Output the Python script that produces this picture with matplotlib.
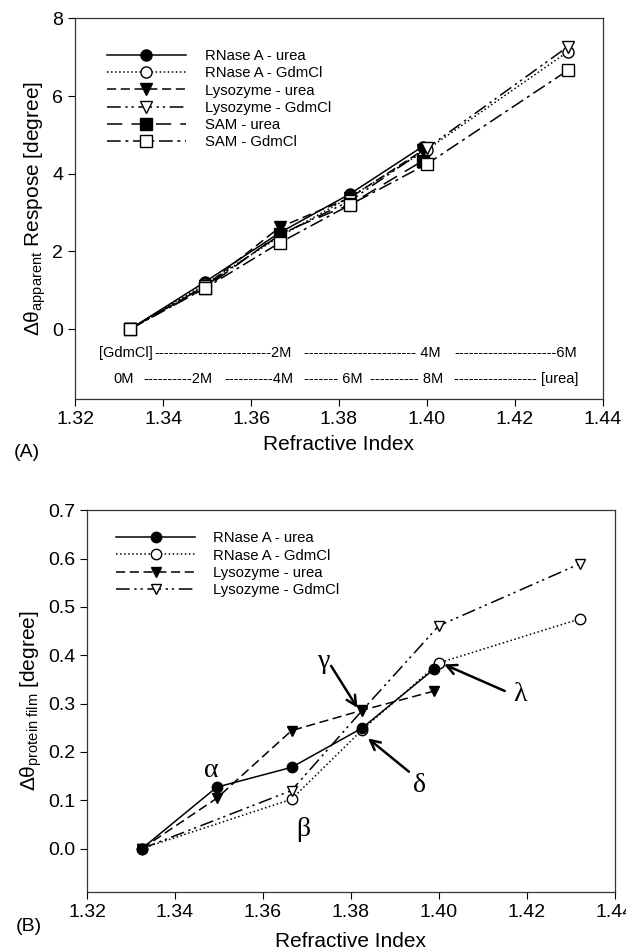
import matplotlib
matplotlib.use("Agg")
import matplotlib.pyplot as plt

plt.rcParams['font.family'] = ['Liberation Sans', 'DejaVu Sans']
plt.rcParams['mathtext.fontset'] = 'custom'
plt.rcParams['mathtext.rm'] = 'Liberation Sans'
plt.rcParams['mathtext.it'] = 'Liberation Sans:italic'

# panel A data (urea: 0-8M, GdmCl: 0-6M)
ri_urea = [1.3325, 1.3495, 1.3665, 1.3825, 1.399]
ri_gdm = [1.3325, 1.3495, 1.3665, 1.3825, 1.400, 1.432]
rnase_urea_a = [0.0, 1.21, 2.48, 3.48, 4.70]
rnase_gdm_a = [0.0, 1.15, 2.38, 3.40, 4.62, 7.14]
lyso_urea_a = [0.0, 1.10, 2.62, 3.38, 4.60]
lyso_gdm_a = [0.0, 1.10, 2.42, 3.30, 4.66, 7.27]
sam_urea_a = [0.0, 1.05, 2.45, 3.21, 4.33]
sam_gdm_a = [0.0, 1.05, 2.22, 3.20, 4.25, 6.66]

# panel B data
ri_urea_b = [1.3325, 1.3495, 1.3665, 1.3825, 1.399]
ri_gdm_b = [1.3325, 1.3665, 1.3825, 1.400, 1.432]
rnase_urea_b = [0.0, 0.127, 0.168, 0.249, 0.372]
rnase_gdm_b = [0.0, 0.102, 0.245, 0.384, 0.475]
lyso_urea_b = [0.0, 0.104, 0.244, 0.286, 0.326]
lyso_gdm_b = [0.0, 0.120, 0.285, 0.461, 0.589]

styles = {
    'RNase A - urea': dict(ls='-', marker='o', mfc='black'),
    'RNase A - GdmCl': dict(ls=':', marker='o', mfc='white'),
    'Lysozyme - urea': dict(ls=(0, (6, 3)), marker='v', mfc='black'),
    'Lysozyme - GdmCl': dict(ls=(0, (9, 3, 1.5, 2.5, 1.5, 3)), marker='v', mfc='white'),
    'SAM - urea': dict(ls=(0, (10, 6)), marker='s', mfc='black'),
    'SAM - GdmCl': dict(ls=(0, (9, 3, 2, 3)), marker='s', mfc='white'),
}

fig = plt.figure(figsize=(6.26, 9.52), dpi=100)

# ---------------- panel A ----------------
ax1 = fig.add_axes([0.12, 0.581, 0.843, 0.3996])
series_a = [
    ('RNase A - urea', ri_urea, rnase_urea_a),
    ('RNase A - GdmCl', ri_gdm, rnase_gdm_a),
    ('Lysozyme - urea', ri_urea, lyso_urea_a),
    ('Lysozyme - GdmCl', ri_gdm, lyso_gdm_a),
    ('SAM - urea', ri_urea, sam_urea_a),
    ('SAM - GdmCl', ri_gdm, sam_gdm_a),
]
for name, x, y in series_a:
    st = styles[name]
    ax1.plot(x, y, color='black', lw=1.1, ls=st['ls'], marker=st['marker'],
             mfc=st['mfc'], mec='black', ms=8, label=name)

ax1.set_xlim(1.32, 1.44)
ax1.set_ylim(-1.8, 8)
ax1.set_xticks([1.32, 1.34, 1.36, 1.38, 1.40, 1.42, 1.44])
ax1.set_xticklabels(['1.32', '1.34', '1.36', '1.38', '1.40', '1.42', '1.44'])
ax1.set_yticks([0, 2, 4, 6, 8])
ax1.set_xlabel('Refractive Index', fontsize=15, labelpad=5)
ax1.set_ylabel(r'Δθ$_{\mathrm{apparent}}$ Respose [degree]', fontsize=15, labelpad=3)
ax1.legend(loc='upper left', bbox_to_anchor=(0.035, 0.955), frameon=False, fontsize=10.7,
           handlelength=5.3, handletextpad=1.3, labelspacing=0.22, numpoints=1)

# concentration scales
conc_gdm = [(1.3255, '[GdmCl]'), (1.3380, '------------------------2M'),
            (1.3721, '----------------------- 4M'), (1.4062, '---------------------6M')]
conc_urea = [(1.3287, '0M'), (1.3355, '----------2M'), (1.3539, '----------4M'),
             (1.3721, '------- 6M'), (1.3871, '---------- 8M'),
             (1.4062, '----------------- [urea]')]
for x, s in conc_gdm:
    ax1.text(x, -0.61, s, fontsize=10.5, ha='left', va='center')
for x, s in conc_urea:
    ax1.text(x, -1.30, s, fontsize=10.5, ha='left', va='center')

fig.text(0.022, 0.525, '(A)', fontsize=14, va='center')

# ---------------- panel B ----------------
ax2 = fig.add_axes([0.139, 0.063, 0.843, 0.401])
series_b = [
    ('RNase A - GdmCl', ri_gdm_b, rnase_gdm_b),
    ('Lysozyme - GdmCl', ri_gdm_b, lyso_gdm_b),
    ('RNase A - urea', ri_urea_b, rnase_urea_b),
    ('Lysozyme - urea', ri_urea_b, lyso_urea_b),
]
for name, x, y in series_b:
    st = styles[name]
    ax2.plot(x, y, color='black', lw=1.1, ls=st['ls'], marker=st['marker'],
             mfc=st['mfc'], mec='black', ms=7.5, label=name)

handles, labels = ax2.get_legend_handles_labels()
order = [2, 0, 3, 1]
ax2.legend([handles[i] for i in order], [labels[i] for i in order],
           loc='upper left', bbox_to_anchor=(0.03, 0.98), frameon=False, fontsize=10.7,
           handlelength=5.3, handletextpad=1.2, labelspacing=0.22, numpoints=1)

ax2.set_xlim(1.32, 1.44)
ax2.set_ylim(-0.09, 0.7)
ax2.set_xticks([1.32, 1.34, 1.36, 1.38, 1.40, 1.42, 1.44])
ax2.set_xticklabels(['1.32', '1.34', '1.36', '1.38', '1.40', '1.42', '1.44'])
ax2.set_yticks([0.0, 0.1, 0.2, 0.3, 0.4, 0.5, 0.6, 0.7])
ax2.set_yticklabels(['0.0', '0.1', '0.2', '0.3', '0.4', '0.5', '0.6', '0.7'])
ax2.set_xlabel('Refractive Index', fontsize=15, labelpad=8)
ax2.set_ylabel(r'Δθ$_{\mathrm{protein\ film}}$ [degree]', fontsize=15, labelpad=3)

greek = dict(fontsize=20, family=['Liberation Serif', 'DejaVu Serif'], ha='center', va='center')
ax2.text(1.3482, 0.162, 'α', **greek)
ax2.text(1.3691, 0.040, 'β', **greek)
ax2.text(1.3740, 0.388, 'γ', **greek)
ax2.text(1.3955, 0.131, 'δ', **greek)
ax2.text(1.4185, 0.319, 'λ', **greek)
arr = dict(arrowstyle='->,head_length=0.7,head_width=0.35', lw=1.8, color='black',
           shrinkA=0, shrinkB=0)
ax2.annotate('', xy=(1.3815, 0.291), xytext=(1.3755, 0.378), arrowprops=arr)
ax2.annotate('', xy=(1.3839, 0.228), xytext=(1.3932, 0.159), arrowprops=arr)
ax2.annotate('', xy=(1.4012, 0.381), xytext=(1.4150, 0.326), arrowprops=arr)

fig.text(0.025, 0.027, '(B)', fontsize=14, va='center')

for ax in (ax1, ax2):
    ax.tick_params(direction='out', length=5, width=0.8, labelsize=14,
                   top=False, right=False)
    for sp in ax.spines.values():
        sp.set_linewidth(0.9)
        sp.set_color('#333333')

fig.savefig('out.png', dpi=100)
